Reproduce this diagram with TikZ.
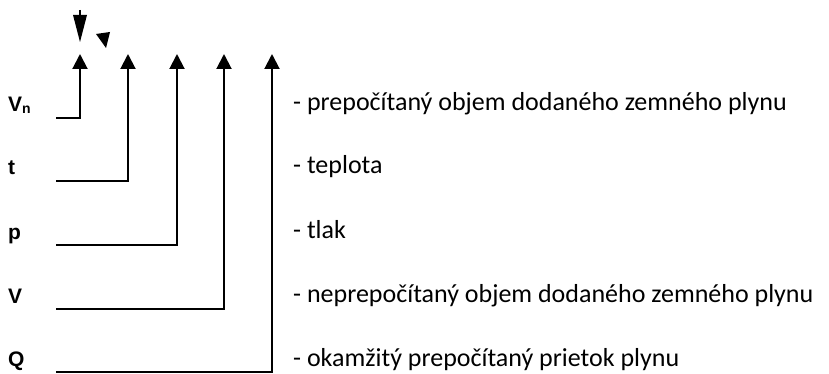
\documentclass[tikz,border=0pt]{standalone}
\usepackage{fontspec}
\setmainfont{Carlito}
\newfontfamily\labfont{Liberation Sans Bold}
\usetikzlibrary{arrows.meta}
\newcommand{\labsize}{\labfont\fontsize{21}{23}\selectfont}
\tikzset{
  conn/.style={line width=2pt, -{Triangle[length=15pt,width=15pt]}},
  lab/.style={anchor=base west, inner sep=0pt},
  desc/.style={anchor=base west, inner sep=0pt, font=\fontsize{26}{28}\selectfont},
  stray/.style={fill=black, draw=none}
}
\begin{document}
\begin{tikzpicture}[x=1pt,y=-1pt]
\useasboundingbox (0,0) rectangle (829,374);
% labels
\node[lab] (Vn) at (8,112) {\labsize V\raisebox{-1.5pt}{\fontsize{14}{14}\selectfont n}};
\node[lab] (t)  at (8,175) {\labsize t};
\node[lab] (p)  at (8,239) {\labsize p};
\node[lab] (V)  at (8,303) {\labsize V};
\node[lab] (Q)  at (8,366) {\labsize Q};
% descriptions
\node[desc] (dVn) at (293,111) {- prepočítaný objem dodaného zemného plynu};
\node[desc] (dt)  at (293,174) {- teplota};
\node[desc] (dp)  at (293,238) {- tlak};
\node[desc] (dV)  at (293,302) {- neprepočítaný objem dodaného zemného plynu};
\node[desc] (dQ)  at (293,366) {- okamžitý prepočítaný prietok plynu};
% connector ends
\coordinate (sVn) at (56,118);
\coordinate (st)  at (56,181);
\coordinate (sp)  at (56,245);
\coordinate (sV)  at (56,309);
\coordinate (sQ)  at (56,372);
\coordinate (eVn) at (80,54);
\coordinate (et)  at (128,54);
\coordinate (ep)  at (177,54);
\coordinate (eV)  at (224,54);
\coordinate (eQ)  at (272,54);
\draw[conn] (sVn) -| (eVn);
\draw[conn] (st)  -| (et);
\draw[conn] (sp)  -| (ep);
\draw[conn] (sV)  -| (eV);
\draw[conn] (sQ)  -| (eQ);
% stray arrowheads at top
\draw[line width=2pt] (80,10) -- (80,16);
\fill[stray] (73,15) -- (87,15) -- (80,42) -- cycle;
\fill[stray] (96,34) -- (110,32) -- (106,48) -- cycle;
\end{tikzpicture}
\end{document}
